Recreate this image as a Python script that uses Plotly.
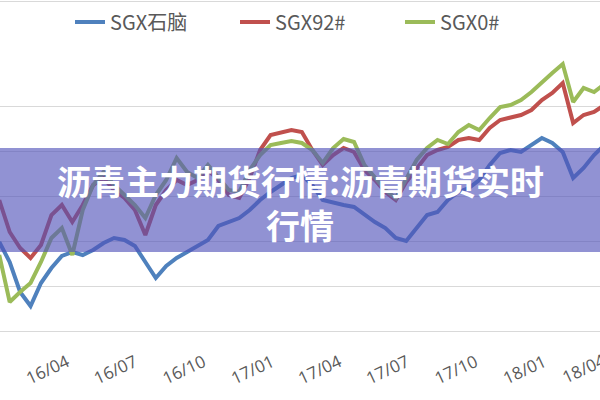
import pandas as pd
import plotly.graph_objects as go

# biweekly observation dates
dates = pd.date_range("2016-01-01", periods=59, freq="14D")

naphtha = [178, 138, 78, 50, 96, 126, 150, 158, 152, 162, 176, 186, 182, 170, 138, 106,
           130, 146, 158, 170, 182, 210, 218, 226, 242, 262, 278, 292, 306, 312, 292, 262,
           256, 252, 248, 232, 218, 206, 186, 180, 206, 232, 238, 262, 278, 286, 302, 332,
           356, 362, 358, 372, 386, 376, 358, 306, 326, 352, 372]

gas92 = [262, 198, 166, 146, 172, 232, 252, 218, 252, 292, 306, 282, 266, 242, 192, 252,
         282, 302, 292, 302, 322, 302, 272, 266, 306, 362, 392, 396, 402, 398, 362, 332,
         352, 366, 358, 322, 302, 278, 262, 298, 326, 352, 362, 368, 382, 386, 382, 406,
         422, 428, 432, 442, 462, 476, 496, 416, 432, 438, 452]

gas0 = [152, 58, 78, 96, 138, 186, 206, 152, 242, 292, 318, 292, 272, 252, 226, 272,
        302, 346, 318, 306, 332, 306, 282, 278, 322, 352, 372, 376, 380, 376, 362, 336,
        366, 384, 378, 332, 306, 282, 266, 306, 342, 366, 382, 374, 398, 412, 402, 426,
        448, 452, 462, 478, 498, 516, 534, 458, 486, 478, 494]

series_names = ["SGX石脑", "SGX92#", "SGX0#"]
series_colors = ["#4F81BD", "#C0504D", "#9BBB59"]
tick_dates = ["2016-04-01", "2016-07-01", "2016-10-01", "2017-01-01", "2017-04-01",
              "2017-07-01", "2017-10-01", "2018-01-01", "2018-04-01"]
x_range = ["2016-01-02", "2018-03-17"]
title_line1 = "沥青主力期货行情:沥青期货实时"
title_line2 = "行情"

fig = go.Figure()
for name, vals, col in zip(series_names, [naphtha, gas92, gas0], series_colors):
    fig.add_trace(go.Scatter(x=dates, y=vals, name=name, mode="lines",
                             line=dict(color=col, width=4)))

tick_font = dict(family="Open Sans", size=17, color="#595959")
tick_text = [pd.Timestamp(d).strftime("%y/%m") for d in tick_dates]
fig.update_xaxes(range=x_range, tickmode="array", tickvals=tick_dates, ticktext=tick_text,
                 tickangle=-25, showgrid=False, showline=True, linecolor="#d9d9d9",
                 linewidth=1, ticks="", ticklabelstandoff=14, tickfont=tick_font)
fig.update_yaxes(range=[0, 542], dtick=90, showgrid=True, gridcolor="#d9d9d9",
                 gridwidth=1, showticklabels=False, zeroline=False)

# the last tick label sits just past the right edge and is cut by the page border
r0 = pd.Timestamp(x_range[0]); r1 = pd.Timestamp(x_range[1])
last = pd.Timestamp(tick_dates[-1])
frac = (last - r0) / (r1 - r0)

shapes = [
    dict(type="rect", xref="paper", yref="paper", x0=0, x1=1,
         y0=(331 - 252) / 271, y1=(331 - 148) / 271, layer="above",
         fillcolor="rgba(80,82,185,0.63)", line=dict(width=0)),
    dict(type="line", xref="paper", yref="paper", x0=0, x1=1,
         y0=(331 - 1.5) / 271, y1=(331 - 1.5) / 271, line=dict(color="#d9d9d9", width=1)),
]

annotations = [
    dict(text=title_line1, xref="paper", yref="paper", x=0.5, y=(331 - 180) / 271,
         showarrow=False, font=dict(family="Noto Sans CJK SC", size=34, color="white", weight=700)),
    dict(text=title_line2, xref="paper", yref="paper", x=0.5, y=(331 - 224) / 271,
         showarrow=False, font=dict(family="Noto Sans CJK SC", size=34, color="white", weight=700)),
    dict(text=tick_text[-1], xref="paper", yref="paper", x=frac, y=(331 - 368) / 271,
         xanchor="right", yanchor="middle", textangle=-25, showarrow=False, font=tick_font),
]

fig.update_layout(
    width=600, height=400, margin=dict(l=0, r=0, t=60, b=69),
    paper_bgcolor="white", plot_bgcolor="white",
    shapes=shapes, annotations=annotations,
    legend=dict(orientation="h", x=70 / 600, xanchor="left", yref="container", y=0.945,
                yanchor="middle", font=dict(family="Noto Sans CJK SC", size=20, color="#595959"),
                entrywidth=120, traceorder="normal"),
    showlegend=True,
)
fig.write_html("out.html")
